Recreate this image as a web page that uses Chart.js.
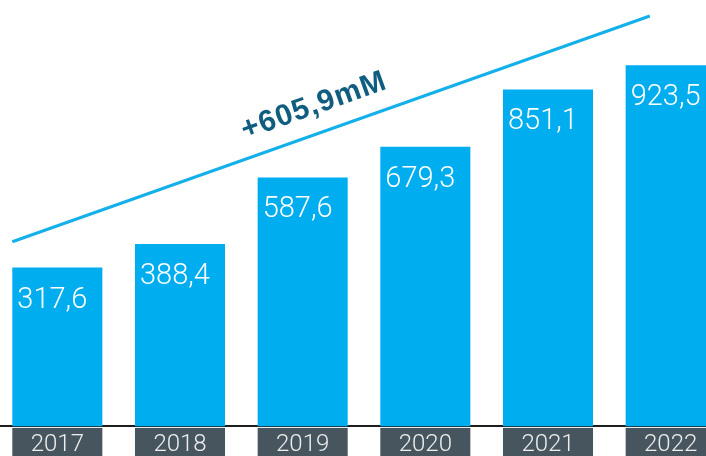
<!DOCTYPE html>
<html>
<head>
<meta charset="utf-8">
<script src="https://cdn.jsdelivr.net/npm/chart.js@4"></script>
<style>
  html, body { margin: 0; padding: 0; background: #fff; overflow: hidden; }
  #wrap { position: absolute; left: -4px; top: 0; width: 736px; height: 456px; }
</style>
</head>
<body>
<div id="wrap"><canvas id="chart"></canvas></div>
<script>
const years = ['2017', '2018', '2019', '2020', '2021', '2022'];
const values = [317.6, 388.4, 587.6, 679.3, 851.1, 923.5];
const yMin = -158, yMax = 1119;
// trend arrow in data units: [category index, value]
const trendFrom = [-0.367, 395];
const trendTo = [4.83, 1071];
const trendText = '+605,9mM';
const trendTextAt = [1.53, 702];

const fmt = v => v.toFixed(1).replace('.', ',');

// x position for a fractional category index
function xAt(scale, i) {
    const p0 = scale.getPixelForValue(0), p1 = scale.getPixelForValue(1);
    return p0 + (p1 - p0) * i;
}

const yearBoxes = {
    id: 'yearBoxes',
    beforeDraw(chart) {
        const ctx = chart.ctx;
        const meta = chart.getDatasetMeta(0);
        const bottom = chart.chartArea.bottom;
        ctx.save();
        ctx.fillStyle = '#46555e';
        meta.data.forEach(bar => {
            ctx.fillRect(bar.x - bar.width / 2, bottom + 1.5, bar.width, chart.height - bottom);
        });
        ctx.restore();
    }
};

const barLabels = {
    id: 'barLabels',
    afterDatasetsDraw(chart) {
        const ctx = chart.ctx;
        const meta = chart.getDatasetMeta(0);
        ctx.save();
        ctx.fillStyle = '#ffffff';
        ctx.font = '300 29px Roboto';
        ctx.textBaseline = 'alphabetic';
        ctx.textAlign = 'left';
        meta.data.forEach((bar, i) => {
            ctx.fillText(fmt(values[i]), bar.x - bar.width / 2 + 5, bar.y + 40);
        });
        ctx.restore();
    }
};

const trend = {
    id: 'trend',
    afterDraw(chart) {
        const ctx = chart.ctx;
        const xs = chart.scales.x, ys = chart.scales.y;
        const x1 = xAt(xs, trendFrom[0]), y1 = ys.getPixelForValue(trendFrom[1]);
        const x2 = xAt(xs, trendTo[0]), y2 = ys.getPixelForValue(trendTo[1]);
        ctx.save();
        ctx.strokeStyle = '#13b0ea';
        ctx.lineWidth = 3;
        ctx.lineCap = 'butt';
        ctx.beginPath();
        ctx.moveTo(x1, y1);
        ctx.lineTo(x2, y2);
        ctx.stroke();
        const ang = Math.atan2(y2 - y1, x2 - x1);
        ctx.translate(xAt(xs, trendTextAt[0]), ys.getPixelForValue(trendTextAt[1]));
        ctx.rotate(ang);
        ctx.fillStyle = '#115d80';
        ctx.font = 'bold 30px "Liberation Sans"';
        ctx.letterSpacing = '1px';
        ctx.textBaseline = 'alphabetic';
        ctx.textAlign = 'left';
        ctx.fillText(trendText, 0, 0);
        ctx.restore();
    }
};

new Chart(document.getElementById('chart').getContext('2d'), {
    type: 'bar',
    data: {
        labels: years,
        datasets: [{
            data: values,
            base: yMin,
            backgroundColor: '#00adef',
            borderWidth: 0,
            barPercentage: 0.734,
            categoryPercentage: 1
        }]
    },
    options: {
        responsive: true,
        maintainAspectRatio: false,
        animation: false,
        layout: { padding: 0 },
        plugins: { legend: { display: false }, tooltip: { enabled: false } },
        scales: {
            x: {
                grid: { display: false },
                border: { display: true, color: '#1e1e1e', width: 2 },
                ticks: {
                    color: '#eeeeee',
                    padding: -3,
                    font: { family: 'Roboto', weight: 300, size: 24, lineHeight: 1.15 }
                }
            },
            y: { display: false, min: yMin, max: yMax }
        }
    },
    plugins: [yearBoxes, barLabels, trend]
});
</script>
</body>
</html>
